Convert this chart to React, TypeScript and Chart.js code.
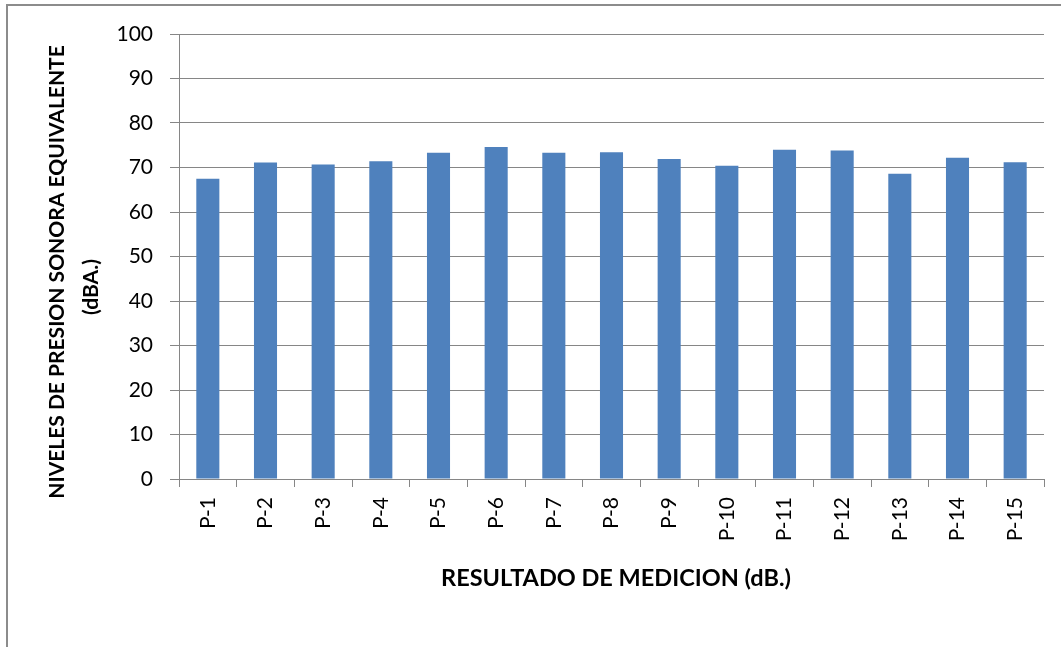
import React, { useEffect, useRef } from "react";
import { Chart, registerables } from "chart.js";

Chart.register(...registerables);

const categories = ["P-1", "P-2", "P-3", "P-4", "P-5", "P-6", "P-7", "P-8", "P-9", "P-10", "P-11", "P-12", "P-13", "P-14", "P-15"];
const levels = [67.5, 71.1, 70.7, 71.4, 73.3, 74.6, 73.3, 73.4, 71.9, 70.4, 74.0, 73.8, 68.6, 72.2, 71.2];
const yTitleLines = ["NIVELES DE PRESION SONORA EQUIVALENTE", "(dBA.)"];
const xTitle = "RESULTADO DE MEDICION (dB.)";

const FONT = "Lato";
const GRID = "#868686";

const titlesPlugin = {
  id: "titlesAndFrame",
  afterDraw(chart: any) {
    const ctx = chart.ctx;
    ctx.save();
    // outer frame
    ctx.strokeStyle = "#8c8c8c";
    ctx.lineWidth = 2;
    ctx.strokeRect(7, 5, 1100, 700);
    ctx.fillStyle = "#000";
    ctx.textAlign = "center";
    ctx.textBaseline = "middle";
    // x title
    ctx.font = `bold 23.5px ${FONT}`;
    ctx.fillText(xTitle, 616, 578);
    // y title
    ctx.font = `bold 21px ${FONT}`;
    const yPos = [
      { x: 57, y: 272 },
      { x: 91, y: 287 },
    ];
    yTitleLines.forEach((t, i) => {
      ctx.save();
      ctx.translate(yPos[i].x, yPos[i].y);
      ctx.rotate(-Math.PI / 2);
      ctx.fillText(t, 0, 0);
      ctx.restore();
    });
    ctx.restore();
  },
};

export default function App() {
  const ref = useRef<HTMLCanvasElement>(null);
  useEffect(() => {
    if (!ref.current) return;
    const chart = new Chart(ref.current, {
      type: "bar",
      data: {
        labels: categories,
        datasets: [
          {
            data: levels,
            backgroundColor: "#4F81BD",
            borderWidth: 0,
            barPercentage: 0.4,
            categoryPercentage: 1,
          },
        ],
      },
      options: {
        responsive: false,
        animation: false,
        layout: { padding: { left: 0, top: 34, right: 17, bottom: 0 } },
        plugins: { legend: { display: false }, tooltip: { enabled: false } },
        scales: {
          x: {
            grid: { drawOnChartArea: false, drawTicks: true, tickLength: 8, color: GRID, offset: true },
            border: { color: GRID, width: 1 },
            ticks: { font: { family: FONT, size: 21 }, color: "#000", minRotation: 90, maxRotation: 90, padding: 10, autoSkip: false },
            afterFit: (s: any) => {
              s.height = 168;
            },
          },
          y: {
            min: 0,
            max: 100,
            ticks: { stepSize: 10, font: { family: FONT, size: 21 }, color: "#000", padding: 17 },
            grid: { color: GRID, tickLength: 9, drawTicks: true },
            border: { color: GRID, width: 1 },
            afterFit: (s: any) => {
              s.width = 179;
            },
          },
        },
      },
      plugins: [titlesPlugin],
    });
    return () => chart.destroy();
  }, []);
  return (
    <div style={{ position: "absolute", left: 0, top: 0, width: 1061, height: 647, background: "#fff" }}>
      <canvas ref={ref} width={1061} height={647} style={{ width: 1061, height: 647 }} />
    </div>
  );
}
